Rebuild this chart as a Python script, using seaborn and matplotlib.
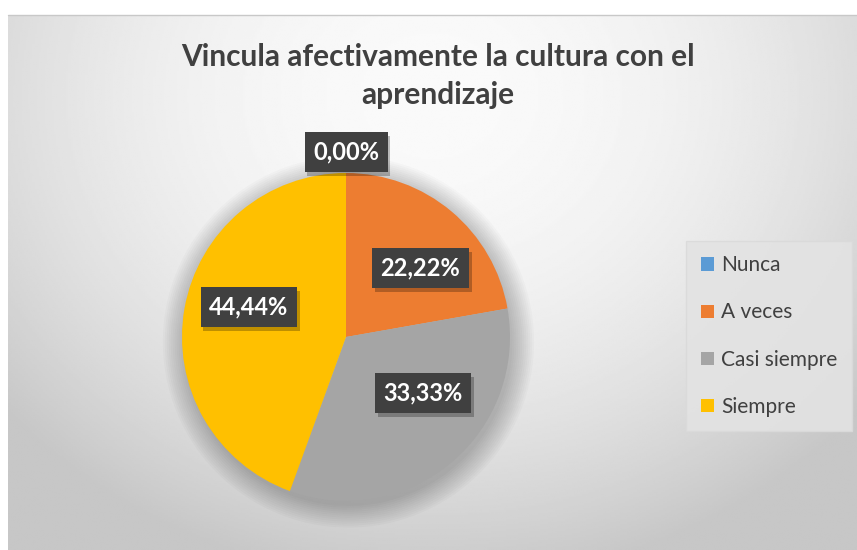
import numpy as np
import matplotlib
matplotlib.use('Agg')
import matplotlib.pyplot as plt
import matplotlib.patheffects as pe
import seaborn as sns

sns.set_theme(style='white')
plt.rcParams['font.family'] = ['Lato', 'DejaVu Sans']

# datos
categorias = ['Nunca', 'A veces', 'Casi siempre', 'Siempre']
valores = [0, 2, 3, 4]
colores = ['#5b9bd5', '#ed7d31', '#a5a5a5', '#ffc000']
titulo = 'Vincula afectivamente la cultura con el\naprendizaje'

W, H = 857, 550
fig = plt.figure(figsize=(W / 100, H / 100), dpi=100)
fig.patch.set_facecolor('white')

# fondo con degradado radial (estilo Excel)
bg = fig.add_axes([8 / W, 0, 1 - 8 / W, 1 - 15 / H])
yy, xx = np.mgrid[0:1:300j, 0:1:400j]
grad = 0.98 - 0.46 * (xx - 0.5) ** 2 - 0.24 * (yy - 0.15) ** 2
grad = np.clip(grad, 0.78, 1)
bg.imshow(grad, cmap='gray', vmin=0, vmax=1, aspect='auto', extent=[0, 1, 1, 0])
bg.set_axis_off()
fig.add_artist(plt.Line2D([8 / W, 1], [1 - 15 / H, 1 - 15 / H],
                          color='#c8c8c8', lw=1, transform=fig.transFigure))

# pastel
cx, cy, rad = 346, 337, 164
ax = fig.add_axes([(cx - rad) / W, (H - cy - rad) / H, 2 * rad / W, 2 * rad / H])
ax.set_axis_off()

# sombra suave
for k in range(12):
    c = plt.Circle((0.015, -0.03), 1.0 + k * 0.012, color='black',
                   alpha=0.018, lw=0, zorder=0)
    c.set_clip_on(False)
    ax.add_patch(c)

wedges, _ = ax.pie(valores, colors=colores, startangle=90, counterclock=False,
                   radius=1, wedgeprops=dict(linewidth=0))
ax.set_xlim(-1, 1)
ax.set_ylim(-1, 1)
ax.set_aspect('equal')

total = sum(valores)
ajuste_ang = [0, -7, 14, -7]
dist = [1.13, 0.62, 0.58, 0.62]
sombra = [pe.SimplePatchShadow(offset=(2, -3), shadow_rgbFace='black', alpha=0.25),
          pe.Normal()]
for w, v, da, d in zip(wedges, valores, ajuste_ang, dist):
    ang = np.deg2rad((w.theta1 + w.theta2) / 2 + da)
    txt = f'{100 * v / total:.2f}%'.replace('.', ',')
    x, y = d * np.cos(ang), d * np.sin(ang)
    t = ax.text(x, y, txt, ha='center', va='center', fontsize=17, fontweight='bold',
                color='white', zorder=5, clip_on=False,
                bbox=dict(boxstyle='square,pad=0.36', fc='#404040', ec='none'))
    t.get_bbox_patch().set_path_effects(sombra)

fig.text(438 / W, 1 - 76 / H, titulo, ha='center', va='center', fontsize=21.5,
         fontweight='bold', color='#404040', linespacing=1.45)

leg = fig.legend(wedges, categorias, loc='center left',
                 bbox_to_anchor=(676 / W, 1 - 336 / H), frameon=True,
                 fontsize=15, labelcolor='#404040', handlelength=0.6,
                 handleheight=0.6, handletextpad=0.35, labelspacing=1.3,
                 borderpad=0.7, fancybox=False)
leg.get_frame().set_facecolor('#e3e3e3')
leg.get_frame().set_edgecolor('#dadada')
leg.get_frame().set_alpha(0.9)
for h in leg.legend_handles:
    h.set_edgecolor('none')

fig.savefig('out.png', dpi=100)
